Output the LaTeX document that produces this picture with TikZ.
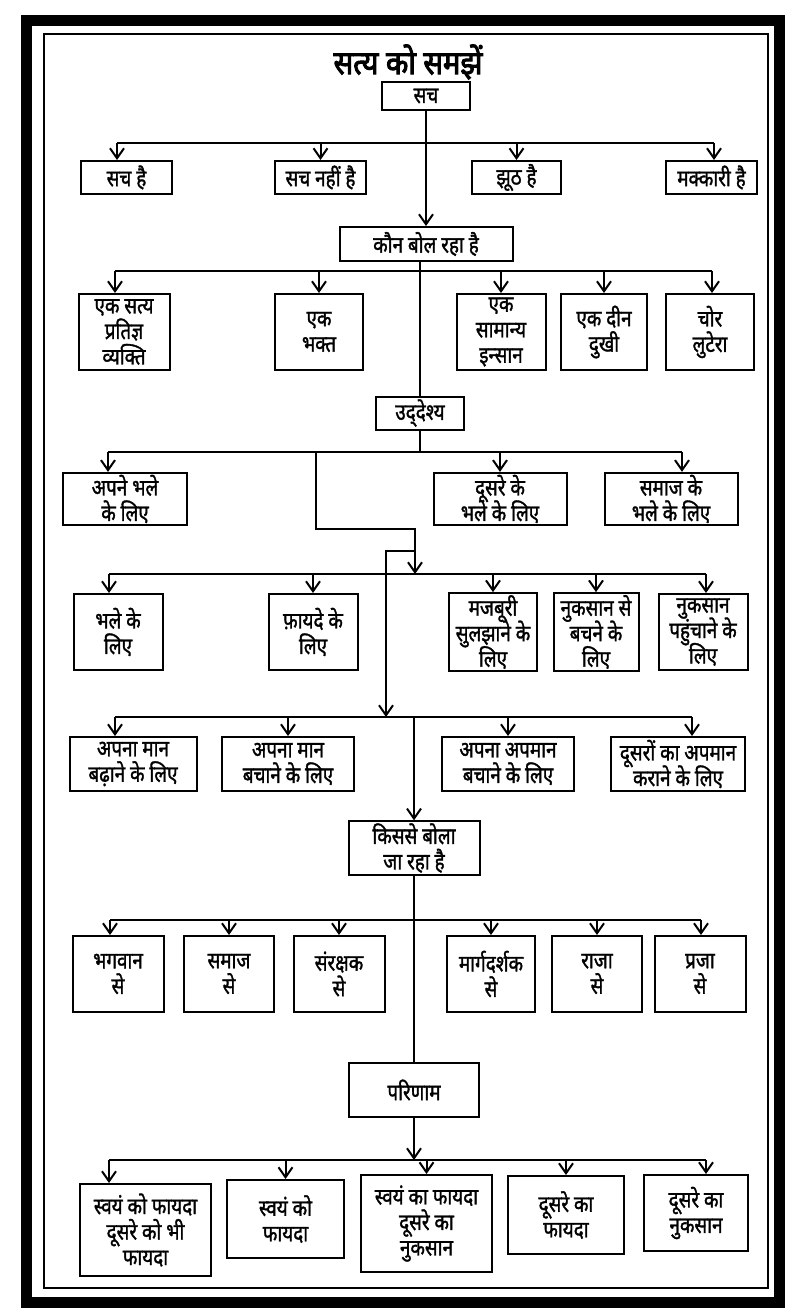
\documentclass[tikz,border=0pt]{standalone}
\usepackage{fontspec}
\setmainfont{Noto Sans}[Script=Devanagari, FakeStretch=0.82, FakeBold=1.4]
\newfontfamily\titlefont{Noto Sans}[Script=Devanagari, FakeStretch=0.88, FakeBold=3]
\usetikzlibrary{arrows.meta}
\newcommand\boxfont{\fontsize{23}{25.5}\selectfont\lineskiplimit-20pt\relax}

\tikzset{
  box/.style={draw, line width=2pt, align=center, inner xsep=1pt, inner ysep=2pt,
    font=\boxfont},
  flatbox/.style={box, minimum height=33pt},
  midbox/.style={box, minimum height=54pt},
  tallbox/.style={box, minimum height=76pt},
  wire/.style={line width=2pt},
  arr/.style={wire, -{Straight Barb[length=10pt,width=14pt]}},
}

\begin{document}
\begin{tikzpicture}[x=1pt, y=-1pt]
\useasboundingbox (0,0) rectangle (796,1316);
% Frame
\draw[line width=11pt] (26.5,20.5) rectangle (779.5,1302.5);
\draw[line width=2pt] (44,34) rectangle (768,1288);

% Title
\node[font=\fontsize{33}{36}\titlefont] (title) at (408,62) {सत्य को समझें};
\node[box, minimum width=88pt, minimum height=28pt] (sach) at (426,96) {सच};

% Row 1
\node[flatbox, minimum width=91pt] (sachhai) at (126.5,177.5) {सच है};
\node[flatbox, minimum width=91pt] (nahi) at (320.5,177.5) {सच नहीं है};
\node[flatbox, minimum width=89pt] (jhooth) at (516.5,177.5) {झूठ है};
\node[flatbox, minimum width=91pt] (makkari) at (711.5,177.5) {मक्कारी है};
\node[box, minimum width=173pt, minimum height=34pt] (kaun) at (426,244) {कौन बोल रहा है};

\coordinate (b1l) at (117,143);
\coordinate (b1r) at (714,143);
\draw[wire] (b1l) -- (b1r);
\draw[arr] (b1l) -- (b1l |- sachhai.north);
\draw[arr] (nahi.north |- b1l) -- (nahi.north);
\draw[arr] (jhooth.north |- b1l) -- (jhooth.north);
\draw[arr] (b1r) -- (b1r |- makkari.north);
\draw[arr] (sach.south) -- (kaun.north);

% Row 2
\node[tallbox, minimum width=91pt] (satya) at (124,332) {एक सत्य\\प्रतिज्ञ\\व्यक्ति};
\node[tallbox, minimum width=88pt] (bhakt) at (319,332) {एक\\भक्त};
\node[tallbox, minimum width=89pt] (insaan) at (501,332) {एक\\सामान्य\\इन्सान};
\node[tallbox, minimum width=86pt] (deen) at (604,332) {एक दीन\\दुखी};
\node[tallbox, minimum width=88pt] (chor) at (710,332) {चोर\\लुटेरा};
\node[box, minimum width=88pt, minimum height=33pt] (udd) at (420,413) {उद्^^^^200cदेश्य};

\coordinate (b2l) at (115,271);
\coordinate (b2r) at (712,271);
\draw[wire] (b2l) -- (b2r);
\draw[arr] (b2l) -- (b2l |- satya.north);
\draw[arr] (bhakt.north |- b2l) -- (bhakt.north);
\draw[arr] (insaan.north |- b2l) -- (insaan.north);
\draw[arr] (deen.north |- b2l) -- (deen.north);
\draw[arr] (b2r) -- (b2r |- chor.north);
\draw[wire] (udd.north |- kaun.south) -- (udd.north);

% Row 3
\node[midbox, minimum width=124pt, minimum height=52pt] (apne) at (125,499) {अपने भले\\के लिए};
\node[midbox, minimum width=133pt, minimum height=52pt] (doosre) at (500,499) {दूसरे के\\भले के लिए};
\node[midbox, minimum width=133pt, minimum height=52pt] (samaj) at (671,499) {समाज के\\भले के लिए};

\coordinate (b3l) at (108,452);
\coordinate (b3r) at (682,452);
\draw[wire] (b3l) -- (b3r);
\draw[wire] (udd.south) -- (udd.south |- b3l);
\draw[arr] (b3l) -- (b3l |- apne.north);
\draw[arr] (doosre.north |- b3l) -- (doosre.north);
\draw[arr] (b3r) -- (b3r |- samaj.north);

% Row 4
\node[tallbox, minimum width=89pt] (bhale) at (118,632) {भले के\\लिए};
\node[tallbox, minimum width=89pt] (fayde) at (313,632) {फ़ायदे के\\लिए};
\node[tallbox, minimum width=88pt] (majboori) at (493,632) {मजबूरी\\सुलझाने के\\लिए};
\node[tallbox, minimum width=85pt] (bachne) at (596,632) {नुकसान से\\बचने के\\लिए};
\node[tallbox, minimum width=89pt] (pahunch) at (703,632) {नुकसान\\पहुंचाने के\\लिए};

\coordinate (b4l) at (109,574);
\coordinate (b4r) at (706,574);
\coordinate (j1) at (316,452);
\coordinate (j2) at (415,529);
\coordinate (j3) at (415,551);
\draw[wire] (b4l) -- (b4r);
\draw[arr] (j1) |- (j2) -- (j2 |- b4l);
\draw[arr] (b4l) -- (b4l |- bhale.north);
\draw[arr] (fayde.north |- b4l) -- (fayde.north);
\draw[arr] (majboori.north |- b4l) -- (majboori.north);
\draw[arr] (bachne.north |- b4l) -- (bachne.north);
\draw[arr] (b4r) -- (b4r |- pahunch.north);

% Row 5
\node[midbox, minimum width=127pt] (badhane) at (133,764) {अपना मान\\बढ़ाने के लिए};
\node[midbox, minimum width=132pt] (bachane) at (288,764) {अपना मान\\बचाने के लिए};
\node[midbox, minimum width=132pt] (apmaan) at (508,764) {अपना अपमान\\बचाने के लिए};
\node[midbox, minimum width=134pt] (doosron) at (678,764) {दूसरों का अपमान\\कराने के लिए};
\node[box, minimum width=131pt, minimum height=53pt] (kisse) at (414,848) {किससे बोला\\जा रहा है};

\coordinate (b5l) at (115,717);
\coordinate (b5r) at (692,717);
\coordinate (j4) at (386,717);
\draw[wire] (b5l) -- (b5r);
\draw[arr] (j3) -| (j4);
\draw[arr] (b5l) -- (b5l |- badhane.north);
\draw[arr] (bachane.north |- b5l) -- (bachane.north);
\draw[arr] (apmaan.north |- b5l) -- (apmaan.north);
\draw[arr] (b5r) -- (b5r |- doosron.north);
\draw[arr] (kisse.north |- b5l) -- (kisse.north);

% Row 6
\node[tallbox, minimum width=91pt] (bhagwan) at (118,974) {भगवान\\से};
\node[tallbox, minimum width=90pt] (samajse) at (229,974) {समाज\\से};
\node[tallbox, minimum width=91pt] (sanrakshak) at (339,974) {संरक्षक\\से};
\node[tallbox, minimum width=88pt] (margdarshak) at (491,974) {मार्गदर्शक\\से};
\node[tallbox, minimum width=90pt] (raja) at (597,974) {राजा\\से};
\node[tallbox, minimum width=91pt] (praja) at (700,974) {प्रजा\\से};
\node[box, minimum width=130pt, minimum height=54pt] (parinam) at (414,1090) {परिणाम};

\coordinate (b6l) at (110,920);
\coordinate (b6r) at (701,920);
\draw[wire] (b6l) -- (b6r);
\draw[wire] (kisse.south) -- (parinam.north);
\draw[arr] (b6l) -- (b6l |- bhagwan.north);
\draw[arr] (samajse.north |- b6l) -- (samajse.north);
\draw[arr] (sanrakshak.north |- b6l) -- (sanrakshak.north);
\draw[arr] (margdarshak.north |- b6l) -- (margdarshak.north);
\draw[arr] (raja.north |- b6l) -- (raja.north);
\draw[arr] (b6r) -- (b6r |- praja.north);

% Row 7
\node[box, minimum width=131pt, minimum height=92pt] (dono) at (145.5,1230) {स्वयं को फायदा\\दूसरे को भी\\फायदा};
\node[box, minimum width=117pt, minimum height=78pt] (swayam) at (285.5,1219) {स्वयं को\\फायदा};
\node[box, minimum width=131pt, minimum height=97pt] (swanuk) at (426.5,1223.5) {स्वयं का फायदा\\दूसरे का\\नुकसान};
\node[box, minimum width=116pt, minimum height=78pt] (dfayda) at (566,1215) {दूसरे का\\फायदा};
\node[box, minimum width=104pt, minimum height=76pt] (dnuksan) at (696,1213) {दूसरे का\\नुकसान};

\coordinate (b7l) at (109,1160);
\coordinate (b7r) at (706,1160);
\draw[wire] (b7l) -- (b7r);
\draw[arr] (parinam.south) -- (parinam.south |- b7l);
\draw[arr] (b7l) -- (b7l |- dono.north);
\draw[arr] (swayam.north |- b7l) -- (swayam.north);
\draw[arr] (swanuk.north |- b7l) -- (swanuk.north);
\draw[arr] (dfayda.north |- b7l) -- (dfayda.north);
\draw[arr] (b7r) -- (b7r |- dnuksan.north);
\end{tikzpicture}
\end{document}
